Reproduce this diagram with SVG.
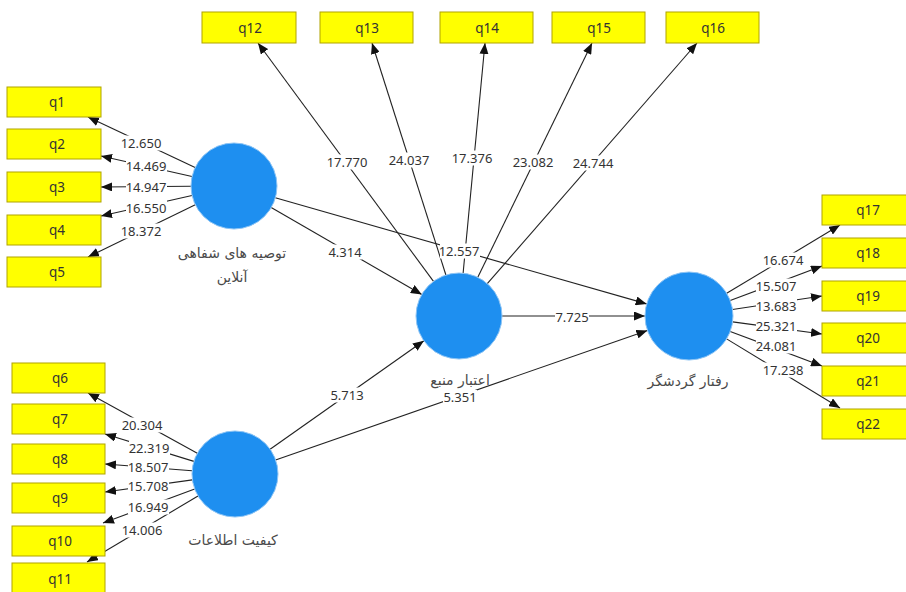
<svg xmlns="http://www.w3.org/2000/svg" width="906" height="592" viewBox="0 0 906 592">
  <defs>
    <marker id="arrow" markerUnits="userSpaceOnUse" markerWidth="11" markerHeight="9" refX="11" refY="4.5" orient="auto">
      <path d="M0,0 L11,4.5 L0,9 z" fill="#111"/>
    </marker>
    <style>
      .ind rect { fill: #ffff00; stroke: #b0a400; stroke-width: 1; }
      .ind text { font-family: "Noto Sans", "Liberation Sans", sans-serif; font-size: 13.5px; fill: #333; text-anchor: middle; dominant-baseline: central; }
      .lv circle { fill: #1e8ff0; stroke: #8cc4f5; stroke-width: 1; }
      .lv text { font-family: "DejaVu Sans", "Noto Sans", sans-serif; font-size: 14px; fill: #4a4a4a; text-anchor: middle; dominant-baseline: central; }
      .edge { stroke: #222; stroke-width: 1.1; fill: none; marker-end: url(#arrow); }
      .lbl rect { fill: #fff; }
      .lbl text { font-family: "Noto Sans", "Liberation Sans", sans-serif; font-size: 13px; fill: #333; text-anchor: middle; dominant-baseline: central; }
    </style>
  </defs>
  <rect width="906" height="592" fill="#fff"/>

  <!-- connectors -->
  <g id="connectors">
    <!-- indicators of the first construct -->
    <line class="edge" x1="195.1" y1="167.6" x2="88" y2="117"/>
    <line class="edge" x1="192" y1="176.5" x2="101" y2="156"/>
    <line class="edge" x1="191" y1="186.3" x2="101" y2="187"/>
    <line class="edge" x1="192" y1="195.5" x2="101" y2="216"/>
    <line class="edge" x1="195.3" y1="204.8" x2="88" y2="257"/>
    <!-- indicators of the second construct -->
    <line class="edge" x1="197.3" y1="453.2" x2="88" y2="393"/>
    <line class="edge" x1="193.9" y1="461.4" x2="105" y2="434"/>
    <line class="edge" x1="192.1" y1="470.7" x2="105" y2="464"/>
    <line class="edge" x1="192.4" y1="479.9" x2="105" y2="492"/>
    <line class="edge" x1="194.7" y1="489" x2="103" y2="523"/>
    <line class="edge" x1="198" y1="496" x2="87" y2="562"/>
    <!-- indicators of the mediator -->
    <line class="edge" x1="433.5" y1="281.4" x2="258" y2="43"/>
    <line class="edge" x1="445.9" y1="275" x2="372" y2="43"/>
    <line class="edge" x1="463.1" y1="273.2" x2="485" y2="43"/>
    <line class="edge" x1="477.8" y1="277.3" x2="592" y2="43"/>
    <line class="edge" x1="487.3" y1="283.6" x2="697" y2="43"/>
    <!-- indicators of the outcome -->
    <line class="edge" x1="726.7" y1="293.3" x2="840" y2="225"/>
    <line class="edge" x1="730.2" y1="300.5" x2="822" y2="266"/>
    <line class="edge" x1="732.5" y1="309.5" x2="822" y2="296"/>
    <line class="edge" x1="732.6" y1="321.9" x2="822" y2="334"/>
    <line class="edge" x1="730.2" y1="331.5" x2="822" y2="366"/>
    <line class="edge" x1="726.6" y1="338.9" x2="840" y2="408"/>
    <!-- structural paths -->
    <line class="edge" x1="271.2" y1="207.5" x2="421.8" y2="294.5"/>
    <line class="edge" x1="275.3" y1="197.8" x2="646.7" y2="303.9"/>
    <line class="edge" x1="502" y1="316" x2="645" y2="316"/>
    <line class="edge" x1="270.1" y1="449.2" x2="423.9" y2="340.8"/>
    <line class="edge" x1="275.6" y1="459.9" x2="647.4" y2="330.5"/>

    <!-- path values -->
    <g class="lbl">
      <rect x="121" y="135.5" width="41" height="15"/><text x="141" y="143">12.650</text>
      <rect x="126" y="158.5" width="41" height="15"/><text x="146" y="166">14.469</text>
      <rect x="126" y="179.5" width="41" height="15"/><text x="146" y="187">14.947</text>
      <rect x="126" y="200" width="41" height="15"/><text x="146" y="207.5">16.550</text>
      <rect x="121" y="223.5" width="41" height="15"/><text x="141" y="231">18.372</text>

      <rect x="122" y="417.5" width="41" height="15"/><text x="142" y="425">20.304</text>
      <rect x="129" y="440.5" width="41" height="15"/><text x="149" y="448">22.319</text>
      <rect x="128" y="459.5" width="41" height="15"/><text x="148" y="467">18.507</text>
      <rect x="128" y="478.5" width="41" height="15"/><text x="148" y="486">15.708</text>
      <rect x="128" y="499.5" width="41" height="15"/><text x="148" y="507">16.949</text>
      <rect x="122" y="522.5" width="41" height="15"/><text x="142" y="530">14.006</text>

      <rect x="327" y="154.5" width="41" height="15"/><text x="347" y="162">17.770</text>
      <rect x="389" y="152.5" width="41" height="15"/><text x="409" y="160">24.037</text>
      <rect x="452" y="150.5" width="41" height="15"/><text x="472" y="158">17.376</text>
      <rect x="513" y="154.5" width="41" height="15"/><text x="533" y="162">23.082</text>
      <rect x="573" y="155.5" width="41" height="15"/><text x="593" y="163">24.744</text>

      <rect x="763" y="252.5" width="41" height="15"/><text x="783" y="260">16.674</text>
      <rect x="756" y="278.5" width="41" height="15"/><text x="776" y="286">15.507</text>
      <rect x="756" y="298.5" width="41" height="15"/><text x="776" y="306">13.683</text>
      <rect x="756" y="318.5" width="41" height="15"/><text x="776" y="326">25.321</text>
      <rect x="756" y="338.5" width="41" height="15"/><text x="776" y="346">24.081</text>
      <rect x="763" y="362.5" width="41" height="15"/><text x="783" y="370">17.238</text>

      <rect x="329" y="244.5" width="33" height="15"/><text x="345" y="252">4.314</text>
      <rect x="440" y="243.5" width="40" height="15"/><text x="459" y="251">12.557</text>
      <rect x="555" y="309.5" width="34" height="15"/><text x="572" y="317">7.725</text>
      <rect x="330" y="387.5" width="34" height="15"/><text x="347" y="395">5.713</text>
      <rect x="443" y="390" width="34" height="14"/><text x="460" y="397">5.351</text>
    </g>
  </g>

  <!-- latent constructs -->
  <g id="lv-online-wom" class="lv">
    <circle cx="234" cy="186" r="43"/>
    <text x="232" y="253">توصیه های شفاهی</text>
    <text x="232" y="277">آنلاین</text>
  </g>
  <g id="lv-info-quality" class="lv">
    <circle cx="235" cy="474" r="43"/>
    <text x="233" y="540">کیفیت اطلاعات</text>
  </g>
  <g id="lv-source-credibility" class="lv">
    <circle cx="459" cy="316" r="43"/>
    <text x="460" y="380">اعتبار منبع</text>
  </g>
  <g id="lv-tourist-behavior" class="lv">
    <circle cx="689" cy="316" r="44"/>
    <text x="688" y="381">رفتار گردشگر</text>
  </g>

  <!-- indicators -->
  <g id="q1" class="ind"><rect x="7" y="87" width="94" height="30"/><text x="57" y="102">q1</text></g>
  <g id="q2" class="ind"><rect x="7" y="129" width="94" height="30"/><text x="57" y="144">q2</text></g>
  <g id="q3" class="ind"><rect x="7" y="172" width="94" height="30"/><text x="57" y="187">q3</text></g>
  <g id="q4" class="ind"><rect x="7" y="215" width="94" height="30"/><text x="57" y="230">q4</text></g>
  <g id="q5" class="ind"><rect x="7" y="257" width="94" height="30"/><text x="57" y="272">q5</text></g>

  <g id="q6" class="ind"><rect x="12" y="363" width="93" height="30"/><text x="60" y="378">q6</text></g>
  <g id="q7" class="ind"><rect x="12" y="404" width="93" height="30"/><text x="60" y="419">q7</text></g>
  <g id="q8" class="ind"><rect x="12" y="444" width="93" height="30"/><text x="60" y="459">q8</text></g>
  <g id="q9" class="ind"><rect x="12" y="483" width="93" height="30"/><text x="60" y="498">q9</text></g>
  <g id="q10" class="ind"><rect x="12" y="526" width="93" height="30"/><text x="60" y="541">q10</text></g>
  <g id="q11" class="ind"><rect x="12" y="563" width="93" height="30"/><text x="60" y="579">q11</text></g>

  <g id="q12" class="ind"><rect x="202" y="12" width="94" height="31"/><text x="250" y="28">q12</text></g>
  <g id="q13" class="ind"><rect x="320" y="12" width="93" height="31"/><text x="367" y="28">q13</text></g>
  <g id="q14" class="ind"><rect x="440" y="12" width="93" height="31"/><text x="487" y="28">q14</text></g>
  <g id="q15" class="ind"><rect x="552" y="12" width="93" height="31"/><text x="599" y="28">q15</text></g>
  <g id="q16" class="ind"><rect x="666" y="12" width="93" height="31"/><text x="713" y="28">q16</text></g>

  <g id="q17" class="ind"><rect x="822" y="195" width="93" height="30"/><text x="868" y="210">q17</text></g>
  <g id="q18" class="ind"><rect x="822" y="238" width="93" height="30"/><text x="868" y="253">q18</text></g>
  <g id="q19" class="ind"><rect x="822" y="281" width="93" height="30"/><text x="868" y="296">q19</text></g>
  <g id="q20" class="ind"><rect x="822" y="323" width="93" height="30"/><text x="868" y="338">q20</text></g>
  <g id="q21" class="ind"><rect x="822" y="366" width="93" height="30"/><text x="868" y="381">q21</text></g>
  <g id="q22" class="ind"><rect x="822" y="409" width="93" height="30"/><text x="868" y="424">q22</text></g>
</svg>
